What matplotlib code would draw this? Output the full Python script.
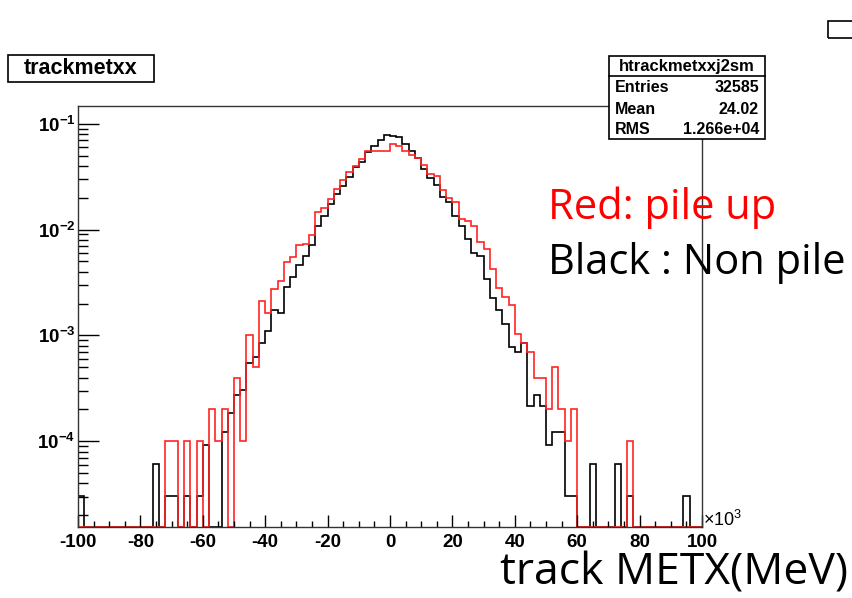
import numpy as np
import matplotlib
matplotlib.use("Agg")
import matplotlib.pyplot as plt
from matplotlib.ticker import MultipleLocator, LogLocator, NullFormatter
from matplotlib.patches import Rectangle

# ---------------- data ----------------
bin_edges = np.arange(-100, 101, 2)  # x10^3 MeV, 100 bins

# non pile-up (black), normalised bin contents
black_vals = [
    3.07e-5, 0, 0, 0, 0, 0, 0, 0, 0, 0,
    0, 0, 6.14e-5, 0, 3.07e-5, 3.07e-5, 0, 3.07e-5, 0, 3.07e-5,
    9.2e-5, 0, 0, 1.23e-4, 1.84e-4, 2.76e-4, 3.07e-4, 5.5e-4, 6.2e-4, 8.5e-4,
    1.1e-3, 1.72e-3, 1.64e-3, 2.86e-3, 3.6e-3, 4.6e-3, 5.65e-3, 7.2e-3, 1.07e-2, 1.33e-2,
    1.74e-2, 2.15e-2, 2.6e-2, 3.12e-2, 3.9e-2, 4.33e-2, 5.44e-2, 6.16e-2, 7.0e-2, 7.82e-2,
    7.7e-2, 7.44e-2, 6.43e-2, 5.56e-2, 4.79e-2, 3.77e-2, 3.05e-2, 2.64e-2, 2.02e-2, 1.81e-2,
    1.33e-2, 1.07e-2, 8.1e-3, 6.07e-3, 5.65e-3, 3.43e-3, 2.25e-3, 1.75e-3, 1.29e-3, 7.7e-4,
    7.0e-4, 8.4e-4, 2.15e-4, 2.76e-4, 2.15e-4, 9.2e-5, 1.23e-4, 1.23e-4, 3.07e-5, 3.07e-5,
    0, 0, 6.14e-5, 0, 0, 0, 6.14e-5, 0, 3.07e-5, 0,
    0, 0, 0, 0, 0, 0, 0, 3.07e-5, 0, 0,
]

# pile-up (red), normalised bin contents
red_vals = [
    0, 0, 0, 0, 0, 0, 0, 0, 0, 0,
    0, 0, 0, 0, 1e-4, 1e-4, 0, 1e-4, 0, 1e-4,
    0, 2e-4, 1e-4, 2e-4, 0, 4e-4, 1e-4, 1e-3, 5e-4, 2.1e-3,
    1.63e-3, 2.74e-3, 3.24e-3, 4.9e-3, 5.45e-3, 7.2e-3, 7.3e-3, 8.8e-3, 1.46e-2, 1.61e-2,
    1.95e-2, 2.43e-2, 2.94e-2, 3.52e-2, 3.99e-2, 4.64e-2, 5.56e-2, 5.56e-2, 5.56e-2, 5.56e-2,
    6.39e-2, 6.16e-2, 5.56e-2, 5.1e-2, 4.79e-2, 4.1e-2, 3.35e-2, 3.21e-2, 2.37e-2, 2.0e-2,
    1.81e-2, 1.26e-2, 1.21e-2, 1.07e-2, 7.6e-3, 6.58e-3, 4.26e-3, 2.8e-3, 2.33e-3, 1.92e-3,
    1.03e-3, 8.5e-4, 7e-4, 4e-4, 4e-4, 2e-4, 5e-4, 2e-4, 1e-4, 2e-4,
    0, 0, 0, 0, 0, 0, 0, 0, 1e-4, 0,
    0, 0, 0, 0, 0, 0, 0, 0, 0, 0,
]

x_ticks = [-100, -80, -60, -40, -20, 0, 20, 40, 60, 80, 100]
y_ticks = [1e-4, 1e-3, 1e-2, 1e-1]
y_tick_labels = [r"$\mathbf{10^{-4}}$", r"$\mathbf{10^{-3}}$", r"$\mathbf{10^{-2}}$", r"$\mathbf{10^{-1}}$"]

hist_name = "trackmetxx"
stats_title = "htrackmetxxj2sm"
stats_rows = [("Entries", "32585"), ("Mean", "24.02"), ("RMS", "1.266e+04")]

# ---------------- figure ----------------
W, H = 852, 598
plt.rcParams['mathtext.fontset'] = 'custom'
plt.rcParams['mathtext.bf'] = 'Liberation Sans:bold'
plt.rcParams['mathtext.rm'] = 'Liberation Sans'
fig = plt.figure(figsize=(W / 100, H / 100), dpi=100)

def fx(x):
    return x / W

def fy(y):
    return 1 - y / H

ax_l, ax_r, ax_t, ax_b = 78, 702, 106, 527
ax = fig.add_axes([fx(ax_l), fy(ax_b), (ax_r - ax_l) / W, (ax_b - ax_t) / H])

ymin, ymax = 1.55e-5, 0.147
black = np.where(np.array(black_vals) > 0, black_vals, ymin)
red = np.where(np.array(red_vals) > 0, red_vals, ymin)

ax.stairs(black, bin_edges, color="black", lw=1.2, baseline=None, clip_on=False)
ax.stairs(red, bin_edges, color="#ff2424", lw=1.2, baseline=None, clip_on=False)

ax.set_xlim(-100, 100)
ax.set_yscale("log")
ax.set_ylim(ymin, ymax)

for s in ax.spines.values():
    s.set_color("#333333")
    s.set_linewidth(1.0)

ax.set_xticks(x_ticks)
ax.set_xticklabels([str(v) for v in x_ticks], fontfamily="Liberation Sans", fontweight="bold", fontsize=13.5)
ax.xaxis.set_minor_locator(MultipleLocator(5))
ax.set_yticks(y_ticks)
ax.set_yticklabels(y_tick_labels, fontsize=13.5)
ax.yaxis.set_minor_locator(LogLocator(base=10, subs=np.arange(2, 10), numticks=20))
ax.yaxis.set_minor_formatter(NullFormatter())

ax.tick_params(axis="x", which="major", direction="in", length=9, width=1, pad=5, top=False)
ax.tick_params(axis="x", which="minor", direction="in", length=4.5, width=1, top=False)
ax.tick_params(axis="y", which="major", direction="in", length=15, width=1, pad=2, right=False)
ax.tick_params(axis="y", which="minor", direction="in", length=7.5, width=1, right=False)

# x10^3
fig.text(fx(703), fy(520), r"$\times\mathregular{10^{3}}$", fontsize=13, ha="left", va="center",
         fontfamily="Liberation Sans")

# title box
fig.text(fx(81), fy(68.5), hist_name, fontsize=15.5, fontweight="bold", fontfamily="Liberation Sans",
         ha="center", va="center")
fig.patches.append(Rectangle((fx(8), fy(82)), (154 - 8) / W, (82 - 55) / H, transform=fig.transFigure,
                             fill=False, edgecolor="black", lw=1.2))

# stats box
bx0, bx1, by0, by1 = 609, 765, 56, 139
fig.patches.append(Rectangle((fx(bx0), fy(by1)), (bx1 - bx0) / W, (by1 - by0) / H, transform=fig.transFigure,
                             facecolor="white", edgecolor="black", lw=1.2, zorder=5))
fig.add_artist(plt.Line2D([fx(bx0), fx(bx1)], [fy(76), fy(76)], transform=fig.transFigure,
                          color="black", lw=1.2, zorder=6))
fig.text(fx((bx0 + bx1) / 2), fy(66), stats_title, fontsize=12, fontweight="bold",
         fontfamily="Liberation Sans", ha="center", va="center", zorder=7)
for i, (k, v) in enumerate(stats_rows):
    yy = 88 + i * 21
    fig.text(fx(bx0 + 6), fy(yy), k, fontsize=11.5, fontweight="bold", fontfamily="Liberation Sans",
             ha="left", va="center", zorder=7)
    fig.text(fx(bx1 - 6), fy(yy), v, fontsize=11.5, fontweight="bold", fontfamily="Liberation Sans",
             ha="right", va="center", zorder=7)

# corner box fragment
fig.patches.append(Rectangle((fx(828), fy(38)), 40 / W, 17 / H, transform=fig.transFigure,
                             fill=False, edgecolor="black", lw=1.2))

# slide annotations
fig.text(fx(548), fy(208), "Red: pile up", color="#ff0000", fontsize=30, fontfamily="Open Sans",
         ha="left", va="center")
fig.text(fx(548), fy(263), "Black : Non pile", color="black", fontsize=30, fontfamily="Open Sans",
         ha="left", va="center")
fig.text(fx(848), fy(585), "track METX(MeV)", color="black", fontsize=32, fontfamily="Open Sans",
         ha="right", va="baseline")

fig.savefig("out.png", dpi=100)
